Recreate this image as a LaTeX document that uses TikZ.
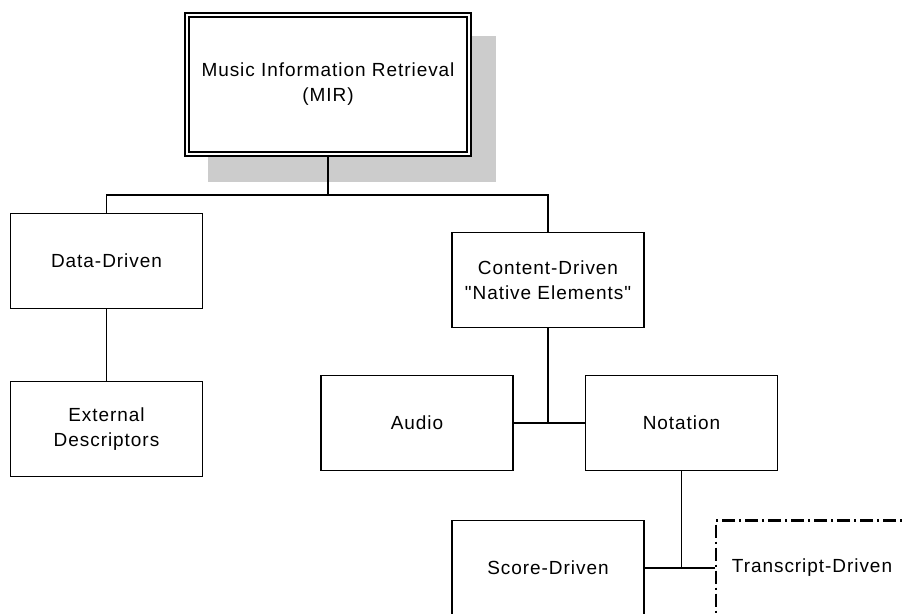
\documentclass[tikz,border=0pt]{standalone}
\usepackage{fontspec}
\setmainfont{Liberation Sans}[LetterSpace=5, Ligatures=TeXOff]
\begin{document}
\begin{tikzpicture}[x=1pt, y=-1pt, line width=1.8pt,
  every node/.style={font=\fontsize{19}{25}\selectfont, align=center, inner sep=0pt},
  box/.style={draw, fill=white, minimum width=192, minimum height=95},
  openbox/.style={box, line width=2.6pt, dash pattern=on 13pt off 4pt on 2pt off 4pt}]
  \useasboundingbox (0,0) rectangle (902,613);
  % shadow behind the root
  \fill[black!20] (208,36) rectangle (496,182);
  \node[draw, double, double distance=2pt, line width=1.8pt, fill=white, minimum width=282, minimum height=139] (mir) at (328,84.5) {Music Information Retrieval\\(MIR)};
  \node[box] (data) at (106.5,261) {Data-Driven};
  \node[box] (content) at (548,280) {Content-Driven\\"Native Elements"};
  \node[box] (ext) at (106.5,429) {External\\Descriptors};
  \node[box] (audio) at (417,423) {Audio};
  \node[box] (notation) at (681.5,423) {Notation};
  \node[box] (score) at (548,568) {Score-Driven};
  \node[openbox] (transcript) at (812,568) {Transcript-Driven};
  \coordinate (split) at (328,195);
  \draw (mir.south) -- (split);
  \draw (data.north) |- (split) -| (content.north);
  \draw (data) -- (ext);
  \draw (audio.east) -- (notation.west);
  \draw (content.south) -- (content.south |- audio.east);
  \draw (score.east) -- (transcript.west);
  \draw (notation.south) -- (notation.south |- score.east);
\end{tikzpicture}
\end{document}
